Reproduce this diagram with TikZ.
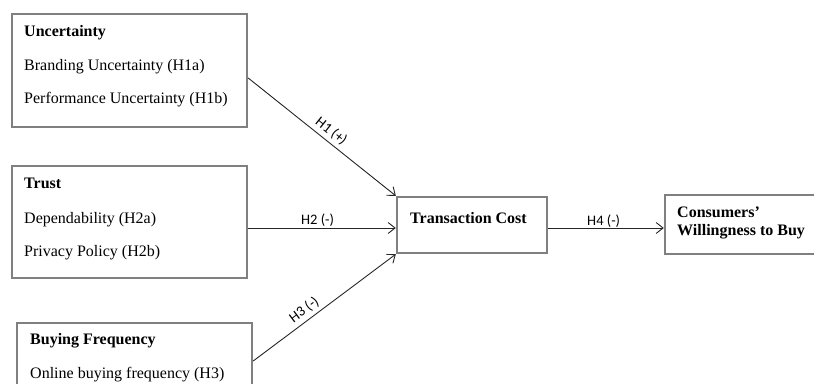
\documentclass[tikz,border=0pt]{standalone}
\usepackage{fontspec}
\setmainfont{Liberation Serif}
\newfontfamily\hypfont{Carlito}
\usetikzlibrary{arrows.meta}

\tikzset{
	box/.style={draw=black!50, line width=2.4pt, inner sep=0pt},
	link/.style={draw=black!85, line width=0.9pt, -{Straight Barb[length=7pt,width=11pt]}},
	hyp/.style={font=\hypfont\fontsize{14.5}{14.5}\selectfont, inner sep=1.5pt},
	txt/.style={font=\fontsize{16}{16}\selectfont, anchor=base west, inner sep=0pt},
	head/.style={font=\fontsize{16}{16}\selectfont\bfseries, anchor=base west, inner sep=0pt},
}

\begin{document}
\begin{tikzpicture}[x=1pt, y=-1pt]
		%%%%% START %%%%%
		
		\useasboundingbox (0, 0) rectangle (814, 383);
		\clip (0, 0) rectangle (814, 383);
		
		% left boxes
		\node[box, minimum width=235pt, minimum height=113pt] (unc) at (129.5, 70.5) {};
		\node[head] (unchead) at (24, 36) {Uncertainty};
		\node[txt] (unca) at (24, 70) {Branding Uncertainty (H1a)};
		\node[txt] (uncb) at (24, 103) {Performance Uncertainty (H1b)};
		
		\node[box, minimum width=235pt, minimum height=112pt] (trust) at (129.5, 222) {};
		\node[head] (trusthead) at (24, 188) {Trust};
		\node[txt] (trusta) at (24, 223) {Dependability (H2a)};
		\node[txt] (trustb) at (24, 256) {Privacy Policy (H2b)};
		
		\node[box, minimum width=235pt, minimum height=76pt] (buy) at (134.5, 361) {};
		\node[head] (buyhead) at (30, 344) {Buying Frequency};
		\node[txt] (buya) at (30, 378) {Online buying frequency (H3)};
		
		% right boxes
		\node[box, minimum width=150pt, minimum height=56pt] (tc) at (472, 225) {};
		\node[head] (tchead) at (410, 223) {Transaction Cost};
		
		\node[box, minimum width=175pt, minimum height=59pt] (cwb) at (752.5, 224.5) {};
		\node[head] (cwba) at (677, 217) {Consumers'};
		\node[head] (cwbb) at (677, 235) {Willingness to Buy};
		
		% hypotheses
		\draw[link] ([yshift=-7.5pt]unc.east) -- (tc.north west)
			node[hyp, pos=0.52, above, sloped, inner sep=3.5pt] (h1) {H1 (+)};
		\draw[link] ([yshift=-6pt]trust.east) -- ([yshift=-3pt]tc.west)
			node[hyp, pos=0.47, above] (h2) {H2 (-)};
		\draw[link] (buy.east) -- (tc.south west)
			node[hyp, pos=0.4, above, sloped, inner sep=3.5pt] (h3) {H3 (-)};
		\draw[link] ([yshift=-3pt]tc.east) -- ([yshift=-3.5pt]cwb.west)
			node[hyp, pos=0.48, above, inner sep=0pt] (h4) {H4 (-)};
		
		%%%%% END %%%%%
	\end{tikzpicture}
\end{document}
